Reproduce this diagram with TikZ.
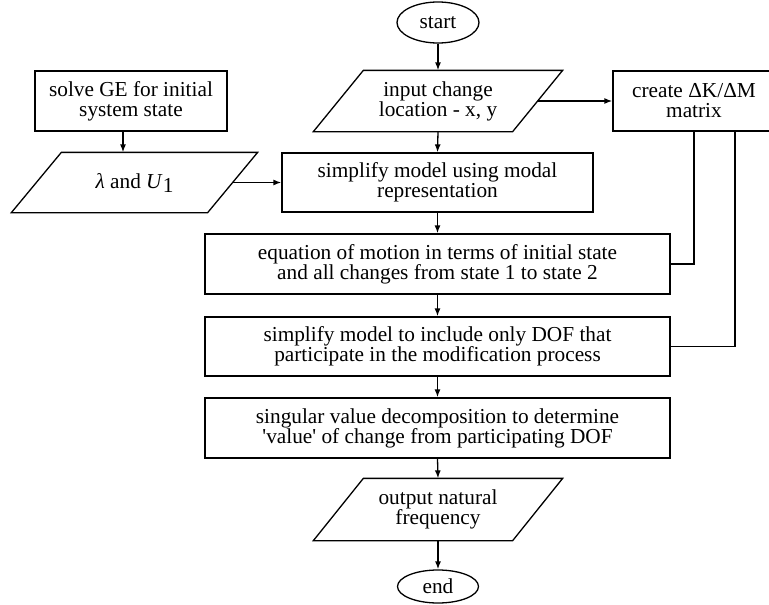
\documentclass[tikz,border=0pt]{standalone}
\usepackage{fontspec}
\setmainfont{Liberation Serif}
\usetikzlibrary{arrows.meta,calc,shapes.geometric}
\newcommand{\diagfont}{\fontsize{21.3}{20}\selectfont}
\begin{document}
\begin{tikzpicture}[x=1pt,y=-1pt,line width=1.3pt,
  box/.style={draw, rectangle, align=center, inner sep=0pt, font=\diagfont},
  paratext/.style={rectangle, align=center, inner sep=0pt, font=\diagfont, minimum width=198pt, minimum height=60pt},
  term/.style={draw, ellipse, inner sep=0pt, font=\diagfont},
  arr/.style={-{Latex[length=8pt,width=6pt]}}]
\useasboundingbox (0,0) rectangle (769,605);

% terminals
\node[term, minimum width=82pt, minimum height=41pt] (start) at (438,22.5) {start};
\node[term, minimum width=81pt, minimum height=33pt] (end) at (438,586.5) {end};

% parallelogram texts
\node[paratext] (in) at (438,101) {input change\\location - x, y};
\node[paratext, minimum width=195pt, minimum height=59pt] (lam) at (134.5,182.5) {\textit{λ} and \textit{U}\raisebox{-4pt}{1}};
\node[paratext, minimum height=61pt] (out) at (438,509.5) {output natural\\frequency};

% parallelogram outlines
\foreach \n in {in,lam,out}{
  \draw ($(\n.south west)+(-25,0)$) -- ($(\n.south east)+(-25,0)$) -- ($(\n.north east)+(25,0)$) -- ($(\n.north west)+(25,0)$) -- cycle;
}

% boxes
\node[box, minimum width=192pt, minimum height=60pt] (solve) at (131,101) {solve GE for initial\\system state};
\node[box, minimum width=162pt, minimum height=60pt] (create) at (694,101) {create ΔK/ΔM\\matrix};
\node[box, minimum width=311pt, minimum height=59pt] (simp) at (437.5,182.5) {simplify model using modal\\representation};
\node[box, minimum width=465pt, minimum height=60pt] (eq) at (437.5,264) {equation of motion in terms of initial state\\and all changes from state 1 to state 2};
\node[box, minimum width=465pt, minimum height=59pt] (dof) at (437.5,346.5) {simplify model to include only DOF that\\participate in the modification process};
\node[box, minimum width=465pt, minimum height=60pt] (svd) at (437.5,428) {singular value decomposition to determine\\\textquotesingle value\textquotesingle{} of change from participating DOF};

% connectors
\draw[arr] (start) -- (in.north);
\draw[arr] (in.south) -- (simp.north);
\draw[arr] (simp) -- (eq);
\draw[arr] (eq) -- (dof);
\draw[arr] (dof) -- (svd);
\draw[arr] (svd.south) -- (out.north);
\draw[arr] (out.south) -- (end.north);
\draw[arr] (in.east) -- (create.west |- in.east);
\draw[arr] (lam.east) -- (simp.west);
\coordinate (ax) at (123,0);
\draw[arr] (ax |- solve.south) -- (ax |- lam.north);
\draw (create.south) |- (eq.east);
\coordinate (bx) at (735,0);
\draw (bx |- create.south) |- (dof.east);
\end{tikzpicture}
\end{document}
